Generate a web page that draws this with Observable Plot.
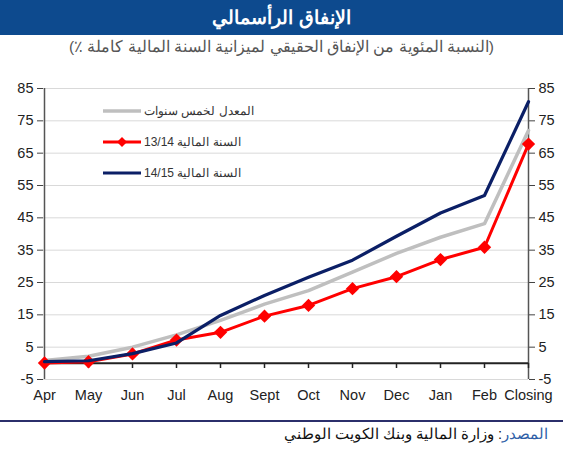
<!DOCTYPE html>
<html><head><meta charset="utf-8">
<script src="https://cdn.jsdelivr.net/npm/d3@7"></script>
<script src="https://cdn.jsdelivr.net/npm/@observablehq/plot@0.6"></script>
<style>
body{margin:0;background:#fff;font-family:Arial,"Liberation Sans",sans-serif;}
#wrap{position:relative;width:563px;height:450px;overflow:hidden;}
#title{position:absolute;left:0;top:0;width:563px;height:35px;background:#0d4a8e;color:#fff;font-weight:bold;font-size:19px;text-align:center;line-height:35px;}
#sub{position:absolute;left:0;top:36px;width:563px;text-align:center;color:#555;font-size:15.5px;line-height:22px;}
#chart{position:absolute;left:0;top:60px;}
#legend{position:absolute;left:0;top:0;}
.li{position:absolute;left:103px;width:220px;height:20px;display:flex;align-items:center;white-space:nowrap;}
.li svg{flex:none;}
.li span{font-size:12px;color:#333;margin-left:3px;white-space:nowrap;}
#rule{position:absolute;left:0;top:420px;width:563px;height:2px;background:#2b2f6b;}
#src{position:absolute;right:15px;top:426px;font-size:14.5px;color:#111;direction:rtl;white-space:nowrap;}
#src b{font-weight:normal;color:#2f5fa8;}
</style></head>
<body><div id="wrap">
<div id="title" dir="rtl">الإنفاق الرأسمالي</div>
<div id="sub" dir="rtl">(النسبة المئوية من الإنفاق الحقيقي لميزانية السنة المالية كاملة ٪)</div>
<div id="chart"></div>
<div id="legend"></div>
<div id="rule"></div>
<div id="src"><b>المصدر</b>: وزارة المالية وبنك الكويت الوطني</div>
</div>
<script>
const months = ["Apr","May","Jun","Jul","Aug","Sept","Oct","Nov","Dec","Jan","Feb","Closing"];
const avg5   = [0.9, 2.2, 5, 8.8, 13.3, 18.3, 22.5, 28.2, 34, 39, 43.2, 72];
const fy1314 = [0.1, 0.5, 2.9, 7.2, 9.6, 14.6, 17.9, 23.1, 26.8, 32.1, 35.9, 67.8];
const fy1415 = [0.5, 0.8, 3, 6.3, 14.8, 21, 26.6, 31.9, 39.3, 46.5, 51.9, 80.9];
const yTicks = [-5,5,15,25,35,45,55,65,75,85];
const seriesNames = ["المعدل لخمس سنوات","السنة المالية 13/14","السنة المالية 14/15"];
const colors = ["#bfbfbf","#ff0000","#0b1f66"];

const rows = (vals) => months.map((m,i)=>({m, v: vals[i]}));
const gray = rows(avg5), red = rows(fy1314), navy = rows(fy1415);

const plot = Plot.plot({
  width: 563, height: 350,
  marginTop: 28, marginBottom: 31, marginLeft: 43, marginRight: 35,
  style: {fontFamily: "Arial, 'Liberation Sans', sans-serif", fontSize: "14px", color: "#222", background: "transparent"},
  x: {type: "point", domain: months, padding: 0},
  y: {domain: [-5, 85]},
  marks: [
    Plot.ruleY(yTicks, {stroke: "#d9d9d9", strokeWidth: 1}),
    Plot.axisY({ticks: yTicks, tickFormat: d => String(d), anchor: "left", tickSize: 6, tickPadding: 4, label: null, stroke: "#444", fontSize: 14.5}),
    Plot.axisY({ticks: yTicks, tickFormat: d => String(d), anchor: "right", tickSize: 6, tickPadding: 4, label: null, stroke: "#444", fontSize: 14.5}),
    Plot.axisX({anchor: "bottom", tickSize: 0, tickPadding: 10, label: null, fontSize: 14.5}),
    Plot.ruleX([months[0], months[months.length-1]], {stroke: "#555", strokeWidth: 1.5}),
    Plot.ruleX(months, {y1: 0, y2: -1.6, stroke: "#222", strokeWidth: 1.5}),
    Plot.ruleY([0], {stroke: "#222", strokeWidth: 2}),
    Plot.line(gray, {x: "m", y: "v", stroke: colors[0], strokeWidth: 3.5}),
    Plot.line(red, {x: "m", y: "v", stroke: colors[1], strokeWidth: 3}),
    Plot.dot(red, {x: "m", y: "v", symbol: "diamond2", r: 6, fill: colors[1], stroke: "none"}),
    Plot.line(navy, {x: "m", y: "v", stroke: colors[2], strokeWidth: 3.2})
  ]
});
document.getElementById("chart").appendChild(plot);

const leg = document.getElementById("legend");
const tops = [101, 132, 163];
seriesNames.forEach((name, i) => {
  const d = document.createElement("div");
  d.className = "li";
  d.style.top = tops[i] + "px";
  const marker = i === 1 ? `<path d="M19 5 L24 10 L19 15 L14 10 Z" fill="${colors[1]}"/>` : "";
  d.innerHTML = `<svg width="38" height="20"><line x1="0" x2="38" y1="10" y2="10" stroke="${colors[i]}" stroke-width="${i===0?3.5:3}"/>${marker}</svg><span dir="rtl">${name}</span>`;
  leg.appendChild(d);
});
</script>
</body></html>
